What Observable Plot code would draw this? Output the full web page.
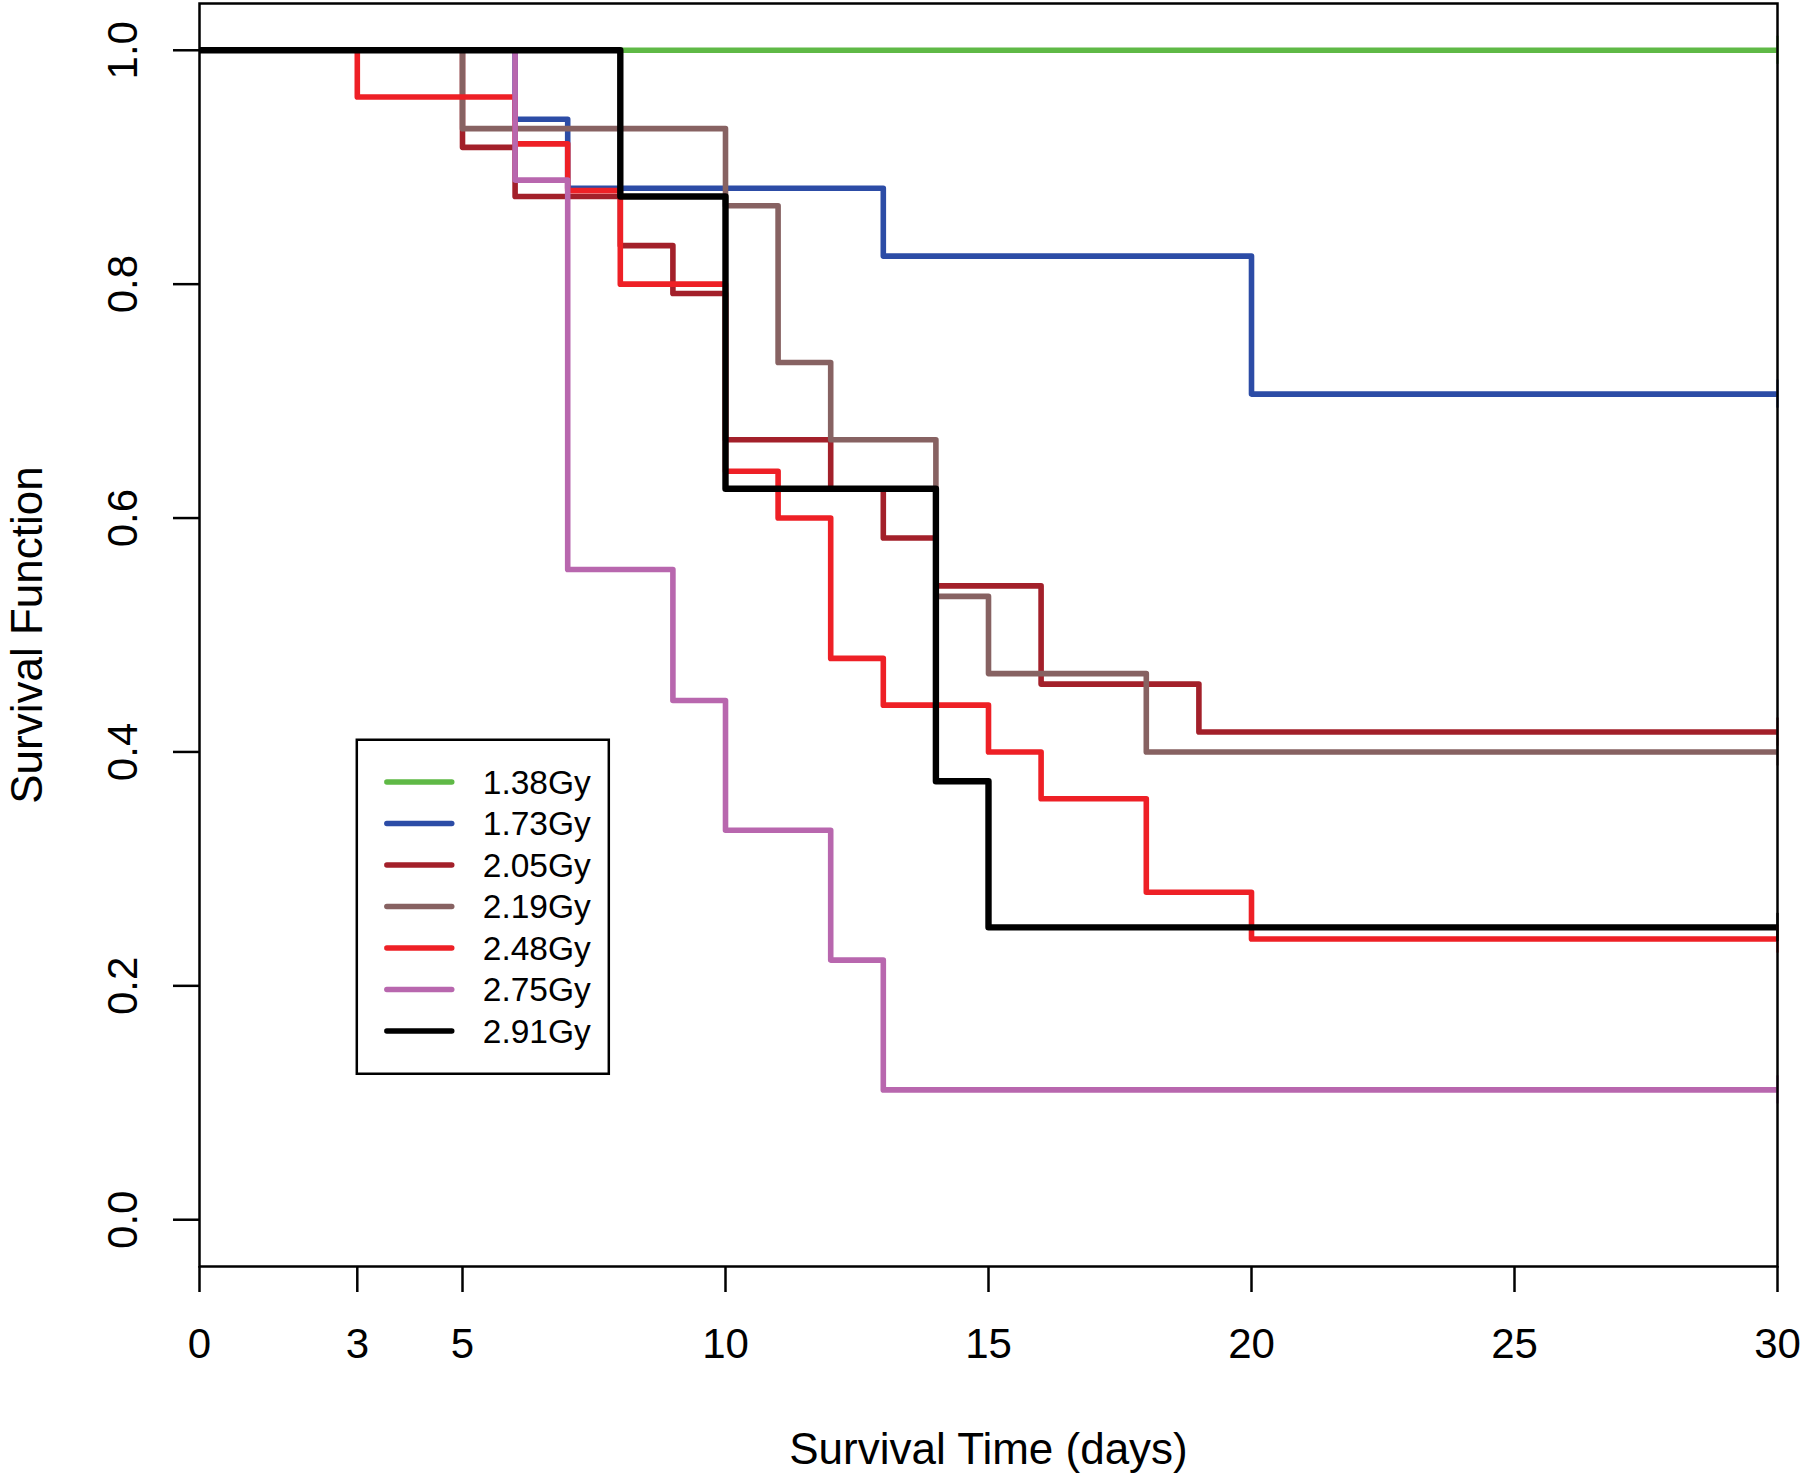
<!DOCTYPE html>
<html>
<head>
<meta charset="utf-8">
<script src="https://cdn.jsdelivr.net/npm/d3@7"></script>
<script src="https://cdn.jsdelivr.net/npm/@observablehq/plot@0.6"></script>
<style>
  html, body { margin: 0; padding: 0; background: #fff; }
  #chart { position: relative; width: 1800px; height: 1474px; }
</style>
</head>
<body>
<div id="chart"></div>
<script>
// ---- data ----
const doses = ["1.38Gy", "1.73Gy", "2.05Gy", "2.19Gy", "2.48Gy", "2.75Gy", "2.91Gy"];

const time138 = [0, 30];
const surv138 = [1, 1];

const time173 = [0, 6, 7, 13, 20, 30];
const surv173 = [1, 0.941, 0.882, 0.824, 0.706, 0.706];

const time205 = [0, 5, 6, 8, 9, 10, 12, 13, 14, 16, 19, 30];
const surv205 = [1, 0.917, 0.875, 0.833, 0.792, 0.667, 0.625, 0.583, 0.542, 0.458, 0.417, 0.417];

const time219 = [0, 5, 10, 11, 12, 14, 15, 18, 30];
const surv219 = [1, 0.933, 0.867, 0.733, 0.667, 0.533, 0.467, 0.4, 0.4];

const time248 = [0, 3, 6, 7, 8, 10, 11, 12, 13, 15, 16, 18, 20, 30];
const surv248 = [1, 0.96, 0.92, 0.88, 0.8, 0.64, 0.6, 0.48, 0.44, 0.4, 0.36, 0.28, 0.24, 0.24];

const time275 = [0, 6, 7, 9, 10, 12, 13, 30];
const surv275 = [1, 0.889, 0.556, 0.444, 0.333, 0.222, 0.111, 0.111];

const time291 = [0, 8, 10, 14, 15, 30];
const surv291 = [1, 0.875, 0.625, 0.375, 0.25, 0.25];

const xTicks = [0, 3, 5, 10, 15, 20, 25, 30];
const yTicks = [0, 0.2, 0.4, 0.6, 0.8, 1.0];
const xLabel = "Survival Time (days)";
const yLabel = "Survival Function";

// ---- styles ----
const colors = ["#5fb946", "#2c4ca6", "#a3202a", "#876262", "#ee2026", "#b867ae", "#000000"];
const widths = [5.6, 5.6, 5.6, 5.6, 5.6, 5.6, 6.4];
const FONT = "'Liberation Sans', Arial, Helvetica, sans-serif";

// ---- table ----
const times = [time138, time173, time205, time219, time248, time275, time291];
const survs = [surv138, surv173, surv205, surv219, surv248, surv275, surv291];
const rows = [];
doses.forEach((g, i) => times[i].forEach((t, j) => rows.push({dose: g, t, s: survs[i][j]})));
const ends = doses.map((g, i) => ({dose: g, t: times[i][times[i].length - 1], s: survs[i][survs[i].length - 1]}));

const chart = Plot.plot({
  width: 1800,
  height: 1474,
  marginLeft: 199,
  marginRight: 23,
  marginTop: 3,
  marginBottom: 208,
  style: {fontFamily: FONT, background: "#fff", color: "#000"},
  x: {domain: [0, 30]},
  y: {domain: [-0.04, 1.04]},
  color: {domain: doses, range: colors},
  marks: [
    Plot.axisX({ticks: xTicks, tickSize: 26, tickPadding: 36, fontSize: 42, strokeWidth: 2.5, tickFormat: d => String(d), label: null}),
    Plot.axisY({ticks: yTicks, tickSize: 26, strokeWidth: 2.5, tickFormat: () => "", label: null}),
    Plot.text(yTicks, {x: 0, y: d => d, text: d => d.toFixed(1), rotate: -90, dx: -76, fontSize: 42, textAnchor: "middle", clip: false}),
    Plot.text([xLabel], {frameAnchor: "bottom", text: d => d, dy: 197, fontSize: 44, textAnchor: "middle"}),
    Plot.text([yLabel], {frameAnchor: "left", text: d => d, dx: -172, rotate: -90, fontSize: 44, textAnchor: "middle"}),
    ...doses.map((g, i) => Plot.line(rows.filter(r => r.dose === g), {x: "t", y: "s", stroke: "dose", strokeWidth: widths[i], curve: "step-after", strokeLinejoin: "round", strokeLinecap: "butt"})),
    Plot.ruleX(ends, {x: "t", y1: d => d.s - 0.012, y2: d => d.s + 0.012, stroke: "dose", strokeWidth: 2.2}),
    Plot.frame({strokeWidth: 2.5})
  ]
});

document.getElementById("chart").appendChild(chart);

// ---- legend (placed at data position x=3, y=0.41 as R's legend()) ----
const legendX = 3, legendY = 0.41;
const sx = chart.scale("x"), sy = chart.scale("y");
const lx = sx.apply(legendX), ly = sy.apply(legendY);
const lw = 252, lh = 334, rowGap = 41.5, firstRow = 42.3;
const svg = d3.select(chart);
const lg = svg.append("g").attr("transform", `translate(${lx},${ly})`);
lg.append("rect").attr("x", 0).attr("y", 0).attr("width", lw).attr("height", lh)
  .attr("fill", "#fff").attr("stroke", "#000").attr("stroke-width", 2.5);
doses.forEach((g, i) => {
  const yy = firstRow + i * rowGap;
  lg.append("line").attr("x1", 30).attr("x2", 95).attr("y1", yy).attr("y2", yy)
    .attr("stroke", colors[i]).attr("stroke-width", 5.4).attr("stroke-linecap", "round");
  lg.append("text").attr("x", 126).attr("y", yy).attr("dy", "0.35em")
    .attr("text-anchor", "start")
    .attr("font-size", 33.5).attr("font-family", FONT).attr("fill", "#000").text(g);
});
</script>
</body>
</html>
